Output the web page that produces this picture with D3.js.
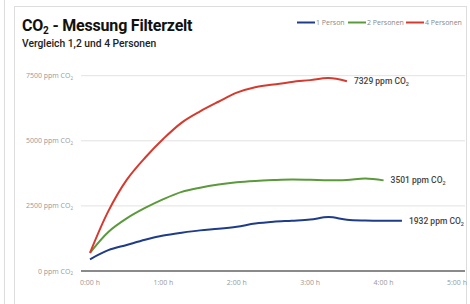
<!DOCTYPE html>
<html><head><meta charset="utf-8">
<script src="https://cdn.jsdelivr.net/npm/d3@7"></script>
<style>body{margin:0;background:#fff;}svg{display:block;}</style>
</head><body>
<svg id="c" width="470" height="304"></svg>
<script>
const hours = [0,0.25,0.5,0.75,1,1.25,1.5,1.75,2,2.25,2.5,2.75,3,3.25,3.5,3.75,4,4.25];
const p1 = [450,800,1000,1200,1360,1470,1560,1620,1700,1820,1890,1930,1975,2070,1970,1940,1930,1932];
const p2 = [700,1500,2020,2420,2760,3040,3200,3320,3410,3460,3490,3510,3500,3485,3490,3550,3480];
const p4 = [700,2300,3500,4350,5080,5700,6130,6500,6850,7060,7160,7260,7330,7410,7290];
const seriesNames = ["1 Person","2 Personen","4 Personen"];
const colors = ["#1f3c88","#5a9a3a","#d63a2f"];
const endLabels = ["1932","3501","7329"];
const yTicks = [0,2500,5000,7500];
const xTicks = [0,1,2,3,4,5];

const svg = d3.select("#c");
// frame
svg.append("line").attr("x1",4.5).attr("x2",4.5).attr("y1",0).attr("y2",304).attr("stroke","#ddd");
svg.append("rect").attr("x",14.5).attr("y",6.5).attr("width",452).attr("height",310).attr("fill","#fff").attr("stroke","#ddd");

const x = d3.scaleLinear().domain([0,5]).range([90,457]);
const y = d3.scaleLinear().domain([0,7500]).range([271,75.7]);

// title
const t = svg.append("text").attr("x",22).attr("y",31).attr("font-family","Roboto, sans-serif").attr("font-weight","bold").attr("font-size",16).attr("letter-spacing",-0.2).attr("fill","#111");
t.append("tspan").text("CO");
t.append("tspan").attr("font-size",10).attr("dy",3).text("2");
t.append("tspan").attr("dy",-3).text(" - Messung Filterzelt");
svg.append("text").attr("x",22).attr("y",47).attr("font-family","Roboto, sans-serif").attr("font-weight",500).attr("font-size",10.3).attr("fill","#222").text("Vergleich 1,2 und 4 Personen");

// grid
svg.append("g").selectAll("line").data(yTicks.filter(d=>d>0)).join("line")
  .attr("x1",81).attr("x2",465).attr("y1",d=>y(d)).attr("y2",d=>y(d)).attr("stroke","#e2e2e2").attr("stroke-width",1);
svg.append("line").attr("x1",81).attr("x2",465).attr("y1",y(0)).attr("y2",y(0)).attr("stroke","#8a8a8a").attr("stroke-width",2);

// y labels
const yl = svg.append("g").selectAll("text").data(yTicks).join("text")
  .attr("x",73).attr("y",d=>y(d)+2.5).attr("text-anchor","end")
  .attr("font-family","'Open Sans', sans-serif").attr("font-size",7).attr("fill","#999");
yl.append("tspan").text(d=>d+" ppm CO");
yl.append("tspan").attr("font-size",4.5).attr("dy",1.5).text("2");

// x labels
svg.append("g").selectAll("text").data(xTicks).join("text")
  .attr("x",d=>x(d)).attr("y",285).attr("text-anchor","middle")
  .attr("font-family","'Open Sans', sans-serif").attr("font-size",7).attr("fill","#999").text(d=>d+":00 h");

// lines
const data = [p1,p2,p4];
const line = d3.line().x((d,i)=>x(hours[i])).y(d=>y(d)).curve(d3.curveCatmullRom.alpha(0.5));
data.forEach((s,k)=>{
  svg.append("path").attr("d",line(s)).attr("fill","none").attr("stroke",colors[k]).attr("stroke-width",2).attr("stroke-linejoin","round");
  const li = s.length-1;
  const lt = svg.append("text").attr("x",x(hours[li])+7).attr("y",y(s[li])+3)
    .attr("font-family","Roboto, sans-serif").attr("font-weight",500).attr("font-size",8.5).attr("fill","#444");
  lt.append("tspan").text(endLabels[k]+" ppm CO");
  lt.append("tspan").attr("font-size",5.5).attr("dy",2).text("2");
});

// legend
const legX = [297,348,406];
seriesNames.forEach((n,k)=>{
  svg.append("line").attr("x1",legX[k]).attr("x2",legX[k]+18).attr("y1",22.5).attr("y2",22.5).attr("stroke",colors[k]).attr("stroke-width",2);
  svg.append("text").attr("x",legX[k]+19).attr("y",25).attr("font-family","'Open Sans', sans-serif").attr("font-size",7).attr("fill","#888").text(n);
});
</script>
</body></html>
